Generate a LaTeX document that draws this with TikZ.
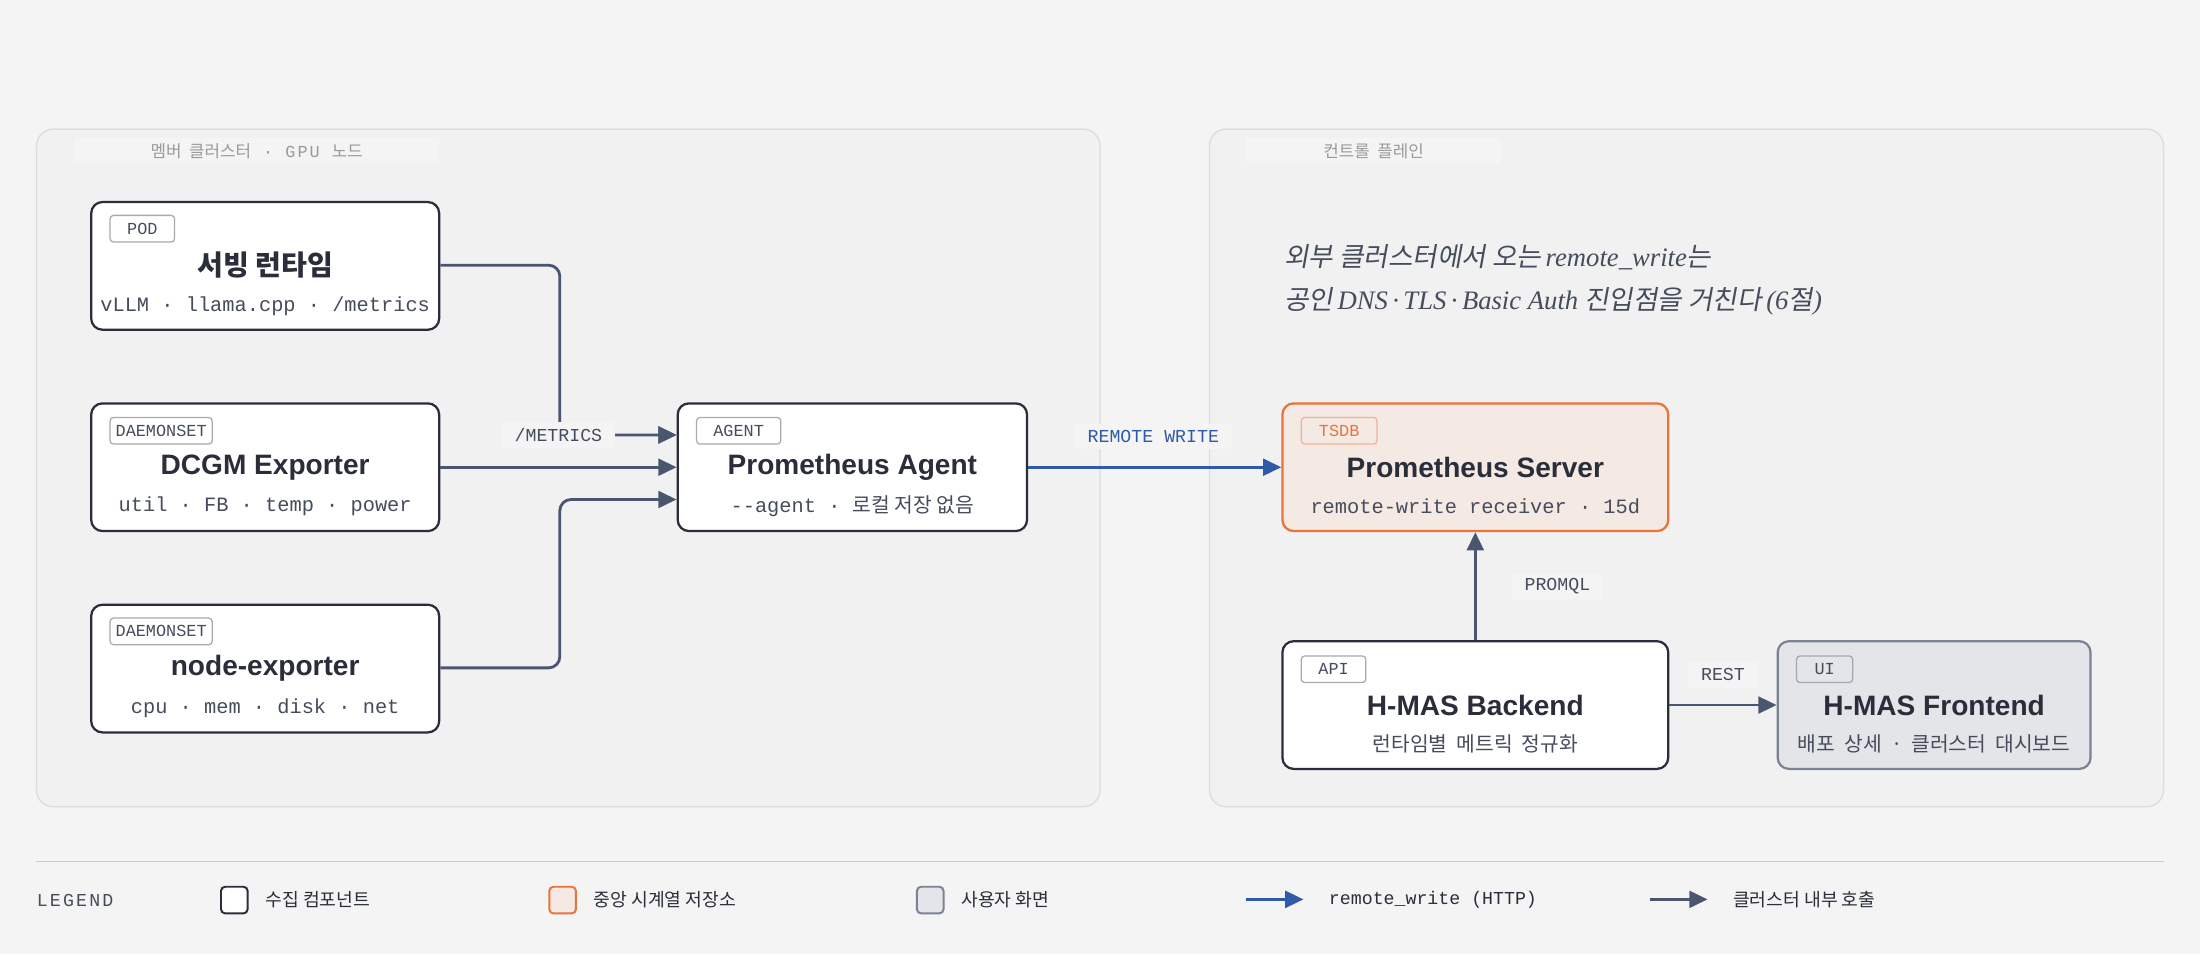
\documentclass[tikz,border=0pt]{standalone}
\usepackage{fontspec}
\setmainfont{Liberation Sans}
\setmonofont{Liberation Mono}
\newfontfamily\krf{Noto Sans CJK KR}
\newfontfamily\krb{Noto Sans CJK KR}[UprightFont=* Bold]
\newfontfamily\kri{Noto Sans CJK KR}[FakeSlant=0.18]
\newfontfamily\seri{Liberation Serif}[UprightFont=* Italic]
\newfontfamily\spmono{Liberation Mono}[LetterSpace=12]
\newcommand\K[1]{{\krf #1}}
\usetikzlibrary{arrows.meta}
\definecolor{bg}{HTML}{F4F4F4}
\definecolor{panel}{HTML}{F1F1F1}
\definecolor{pborder}{HTML}{DDDDDD}
\definecolor{ink}{HTML}{2A2E3A}
\definecolor{sub}{HTML}{454C5C}
\definecolor{edge}{HTML}{4A5670}
\definecolor{blue}{HTML}{2F5AA8}
\definecolor{orng}{HTML}{E8743B}
\definecolor{ofill}{HTML}{F5E9E4}
\definecolor{gfill}{HTML}{E4E5E9}
\definecolor{gbord}{HTML}{7A8296}
\definecolor{tagb}{HTML}{AAAAAA}
\definecolor{muted}{HTML}{9A9A9A}
\tikzset{
 panel/.style={draw=pborder,fill=panel,line width=1pt,rounded corners=12pt},
 tab/.style={fill=bg,minimum height=19pt,inner sep=0pt,font=\spmono\fontsize{12}{12}\selectfont,text=muted},
 box/.style={draw=ink,fill=white,line width=1.6pt,rounded corners=8pt,minimum width=248pt,minimum height=91pt,inner sep=0pt},
 tag/.style={draw=tagb,fill=white,rounded corners=2.5pt,line width=0.9pt,minimum height=19pt,minimum width=46pt,inner xsep=4pt,inner ysep=0pt,font=\ttfamily\fontsize{12}{12}\selectfont,text=sub,anchor=west},
 ttl/.style={font=\bfseries\fontsize{20}{20}\selectfont,text=ink,inner sep=0pt},
 sbt/.style={font=\ttfamily\fontsize{14.5}{15}\selectfont,text=sub,inner sep=0pt},
 arr/.style={draw=edge,line width=2pt,-{Triangle[length=13pt,width=12pt]}},
 barr/.style={draw=blue,line width=2pt,-{Triangle[length=13pt,width=12pt]}},
 elab/.style={fill=bg,inner xsep=9pt,minimum height=18pt,inner ysep=0pt,font=\ttfamily\fontsize{13}{13}\selectfont,text=sub},
 sw/.style={draw=ink,fill=white,line width=1.4pt,rounded corners=3pt,minimum width=19pt,minimum height=19pt,inner sep=0pt},
 ltxt/.style={anchor=west,inner sep=0pt,font=\krf\fontsize{13}{13}\selectfont,text=ink},
}
\begin{document}
\begin{tikzpicture}[x=1pt,y=-1pt]
\fill[bg] (0,0) rectangle (1568,680);
\useasboundingbox (0,0) rectangle (1568,680);
% panels
\draw[panel] (26,92) rectangle (784,575);
\draw[panel] (862,92) rectangle (1542,575);
\node[tab,minimum width=260pt] (tabL) at (183,107.5) {\K{멤버\ \ 클러스터}\ · GPU\ \K{노드}};
\node[tab,minimum width=182pt] (tabR) at (979,107.5) {\K{컨트롤\ \ 플레인}};
% note
\node[anchor=west,inner sep=0pt,text=sub,font=\fontsize{19}{20}\selectfont] (note1) at (915,183) {\kri 외부 클러스터에서 오는\,{\seri remote\_write}는};
\node[anchor=west,inner sep=0pt,text=sub,font=\fontsize{19}{20}\selectfont] (note2) at (915,215) {\kri 공인\,{\seri DNS\,·\,TLS\,·\,Basic Auth} 진입점을 거친다\,{\seri(6}절{\seri)}};
% boxes
\node[box] (pod) at (189,189.5) {};
\node[tag] (podt) at (78,163) {POD};
\node[ttl] (podn) at (189,189) {\krb 서빙 런타임};
\node[sbt] (pods) at (189,218) {vLLM · llama.cpp · /metrics};

\node[box] (dcgm) at (189,333) {};
\node[tag] (dcgmt) at (78,307) {DAEMONSET};
\node[ttl] (dcgmn) at (189,333) {DCGM Exporter};
\node[sbt] (dcgms) at (189,361) {util · FB · temp · power};

\node[box] (nexp) at (189,476.5) {};
\node[tag] (nexpt) at (78,450) {DAEMONSET};
\node[ttl] (nexpn) at (189,476) {node-exporter};
\node[sbt] (nexps) at (189,505) {cpu · mem · disk · net};

\node[box,minimum width=249pt] (agent) at (607.5,333) {};
\node[tag,minimum width=60pt] (agentt) at (496,307) {AGENT};
\node[ttl] (agentn) at (607.5,333) {Prometheus Agent};
\node[sbt] (agents) at (607.5,361) {-{}-agent · \K{로컬 저장 없음}};

\node[box,draw=orng,fill=ofill,minimum width=275pt] (srv) at (1051.5,333) {};
\node[tag,draw=orng!55,fill=ofill,text=orng,minimum width=54pt] (srvt) at (927,307) {TSDB};
\node[ttl] (srvn) at (1051.5,333) {Prometheus Server};
\node[sbt] (srvs) at (1051.5,361) {remote-write receiver · 15d};

\node[box,minimum width=275pt] (be) at (1051.5,502.5) {};
\node[tag] (bet) at (927,477) {API};
\node[ttl] (ben) at (1051.5,503) {H-MAS Backend};
\node[sbt,font=\krf\fontsize{14.5}{15}\selectfont] (bes) at (1051.5,530) {런타임별 \ 메트릭 \ 정규화};

\node[box,draw=gbord,fill=gfill,minimum width=223pt] (fe) at (1378.5,502.5) {};
\node[tag,fill=gfill,draw=gbord!70,minimum width=40pt] (fet) at (1280,477) {UI};
\node[ttl] (fen) at (1378.5,503) {H-MAS Frontend};
\node[sbt,font=\krf\fontsize{14.5}{15}\selectfont] (fes) at (1378.5,530) {배포 \ 상세 \ · \ 클러스터 \ 대시보드};

% edges
\coordinate (a1) at (agent.west |- 0,310);
\coordinate (a3) at (agent.west |- 0,356);
\draw[arr,rounded corners=8pt] (pod.east |- 0,189) -- (399,189) -- (399,310) -- (a1);
\node[elab] (lm) at (398,310) {/METRICS};
\draw[arr] (lm.east) -- (a1);
\draw[arr] (dcgm.east) -- (agent.west);
\draw[arr,rounded corners=8pt] (nexp.east |- 0,476) -- (399,476) -- (399,356) -- (a3);
\draw[barr] (agent.east) -- (srv.west);
\node[elab,text=blue] (lrw) at (822,311) {REMOTE WRITE};
\draw[arr] (be.north) -- (srv.south);
\node[elab] (lpq) at (1110,418) {PROMQL};
\draw[arr] (be.east) -- (fe.west);
\node[elab] (lrest) at (1228,481) {REST};
% legend
\draw[pborder!80!gray,line width=1pt] (26,614) coordinate (s1) -- (1542,614) coordinate (s2);
\node[anchor=west,inner sep=0pt,font=\spmono\fontsize{13}{13}\selectfont,text=sub] (lg) at (26,642) {LEGEND};
\node[sw] (sw1) at (167,641.5) {};
\node[ltxt] (t1) at (189,641) {수집 컴포넌트};
\node[sw,draw=orng,fill=ofill] (sw2) at (401,641.5) {};
\node[ltxt] (t2) at (423,641) {중앙 시계열 저장소};
\node[sw,draw=gbord,fill=gfill] (sw3) at (663,641.5) {};
\node[ltxt] (t3) at (685,641) {사용자 화면};
\coordinate (b1) at (888,641); \coordinate (b2) at (929,641);
\draw[barr] (b1) -- (b2);
\node[ltxt,font=\ttfamily\fontsize{13}{13}\selectfont] (t4) at (947,641) {remote\_write (HTTP)};
\coordinate (c1) at (1176,641); \coordinate (c2) at (1217,641);
\draw[arr] (c1) -- (c2);
\node[ltxt] (t5) at (1235,641) {클러스터 내부 호출};
\end{tikzpicture}
\end{document}
